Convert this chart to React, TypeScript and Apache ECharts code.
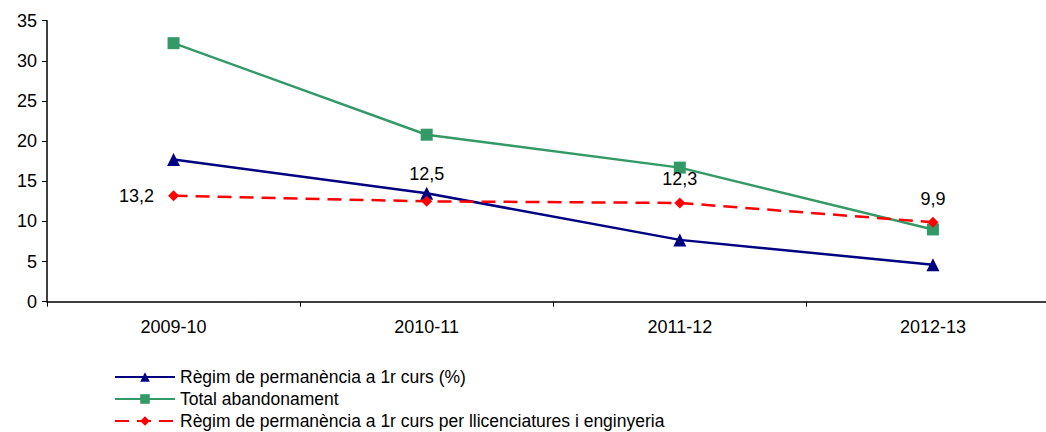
import React, { useEffect, useRef } from "react";
import * as echarts from "echarts";

const categories = ["2009-10", "2010-11", "2011-12", "2012-13"];
const seriesNames = [
  "Règim de permanència a 1r curs (%)",
  "Total abandonament",
  "Règim de permanència a 1r curs per llicenciatures i enginyeria",
];
const regim = [17.7, 13.5, 7.7, 4.6];
const total = [32.2, 20.8, 16.7, 9.0];
const regimLlic = [13.2, 12.5, 12.3, 9.9];
const regimLlicLabels = ["13,2", "12,5", "12,3", "9,9"];

export default function App() {
  const ref = useRef<HTMLDivElement>(null);
  useEffect(() => {
    document.body.style.margin = "0";
    document.body.style.overflow = "hidden";
    const chart = echarts.init(ref.current!, null, { renderer: "svg" });
    const font = "Arial, 'Liberation Sans', sans-serif";
    const labelCfg = [
      { position: "left", distance: 14 },
      { position: "top", distance: 13 },
      { position: "top", distance: 9 },
      { position: "top", distance: 9 },
    ];
    const legendTops = [368, 390, 412];
    chart.setOption({
      animation: false,
      textStyle: { fontFamily: font },
      grid: { left: 47, top: 20.7, right: 0.5, height: 281 },
      legend: seriesNames.map((n, i) => ({
        left: 114,
        top: legendTops[i],
        padding: 0,
        itemWidth: 60,
        itemHeight: 12,
        textStyle: { fontSize: 17.5, color: "#000", fontFamily: font },
        data: [n],
      })),
      xAxis: {
        type: "category",
        data: categories,
        boundaryGap: true,
        axisLine: { lineStyle: { color: "#000", width: 1.5 } },
        axisTick: { show: true, interval: 0, length: 5, lineStyle: { color: "#000" } },
        axisLabel: { color: "#000", fontSize: 18, margin: 16, fontFamily: font },
      },
      yAxis: {
        type: "value",
        min: 0,
        max: 35,
        interval: 5,
        splitLine: { show: false },
        axisLine: { show: true, lineStyle: { color: "#000", width: 1.5 } },
        axisTick: { show: true, length: 5, lineStyle: { color: "#000" } },
        axisLabel: { color: "#000", fontSize: 18, margin: 10, fontFamily: font },
      },
      series: [
        {
          name: seriesNames[0],
          type: "line",
          data: regim,
          symbol: "triangle",
          symbolSize: 13,
          itemStyle: { color: "#000080" },
          lineStyle: { color: "#000080", width: 2.5 },
        },
        {
          name: seriesNames[1],
          type: "line",
          data: total,
          symbol: "rect",
          symbolSize: 12,
          itemStyle: { color: "#339966" },
          lineStyle: { color: "#339966", width: 2.5 },
        },
        {
          name: seriesNames[2],
          type: "line",
          data: regimLlic.map((v, i) => ({
            value: v,
            label: {
              show: true,
              formatter: regimLlicLabels[i],
              position: labelCfg[i].position,
              distance: labelCfg[i].distance,
              color: "#000",
              fontSize: 18,
              fontFamily: font,
            },
          })),
          symbol: "diamond",
          symbolSize: 11,
          itemStyle: { color: "#FF0000" },
          lineStyle: { color: "#FF0000", width: 2.5, type: [14, 8] },
          z: 3,
        },
      ],
    });
    return () => chart.dispose();
  }, []);
  return <div ref={ref} style={{ width: 1060, height: 432 }} />;
}
